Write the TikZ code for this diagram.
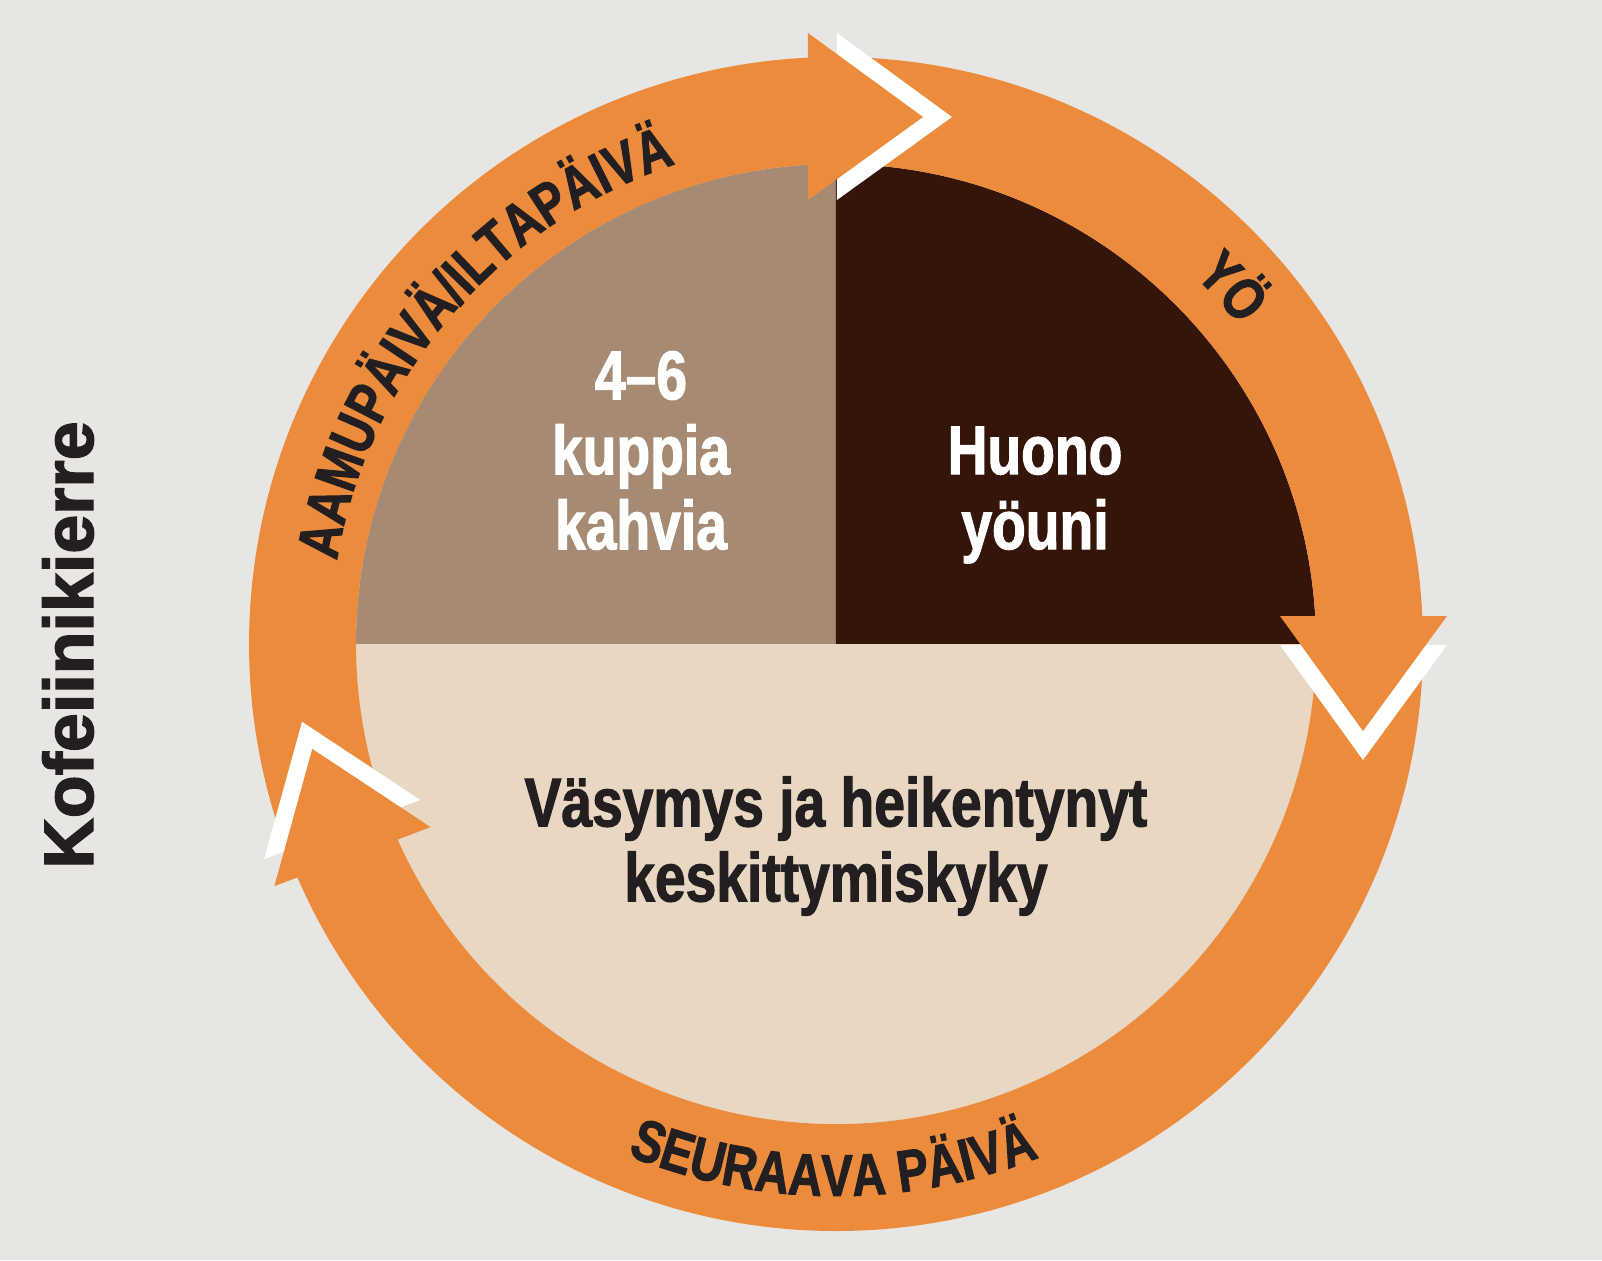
\documentclass[tikz,border=0pt]{standalone}
\usepackage{fontspec}
\usetikzlibrary{decorations.text}
\newfontfamily\condfont[FakeStretch=0.8,FakeBold=1.6]{Liberation Sans Bold}
\newfontfamily\titlefont[FakeBold=2]{Liberation Sans Bold}
\definecolor{paper}{HTML}{E8E6E2}
\definecolor{cycleorange}{HTML}{EB8B3B}
\definecolor{cups}{HTML}{A68A74}
\definecolor{night}{HTML}{35150A}
\definecolor{tired}{HTML}{E8D7C2}
\definecolor{ink}{HTML}{231F20}
\newcommand\bigtext{\condfont\fontsize{34.5}{37.5}\selectfont}
\newcommand\ringtext{\condfont\fontsize{29.5}{30}\selectfont}
\tikzset{
  ringlabel/.style={decorate,decoration={text along path,text align=center,text color=ink,text={|\ringtext|#1}}},
  pielabel/.style={align=center,inner sep=0pt}
}
\begin{document}
\begin{tikzpicture}[x=0.5pt,y=0.5pt,font=\bigtext]
	\fill[paper] (-836,-616) rectangle (766,644);
	\path[use as bounding box] (-836,-616) rectangle (766,644);

	% pie
	\fill[cups] (0,0) -- (180:480) arc[start angle=180,end angle=90,radius=480] -- cycle;
	\fill[night] (0,0) -- (90:480) arc[start angle=90,end angle=0,radius=480] -- cycle;
	\fill[tired] (0,0) -- (0:480) arc[start angle=0,end angle=-180,radius=480] -- cycle;

	% ring with three arrows
	\foreach \a/\b in {200.7/92,90/2,0/-157.3} {
		\fill[cycleorange] (\a:587) arc[start angle=\a,end angle=\b,radius=587] -- (\b:480) arc[start angle=\b,end angle=\a,radius=480] -- cycle;
	}
	\foreach \r in {0,-90,110.7} {
		\fill[white,rotate=\r] (1,611) -- (116,527) -- (1,444) -- cycle;
	}
	\foreach \r in {0,-90,110.7} {
		\fill[cycleorange,rotate=\r] (-28,611) -- (87,527) -- (-28,444) -- cycle;
	}

	\path[ringlabel={AAMUPÄIVÄ/ILTAPÄIVÄ}] (179.5:506) arc[start angle=179.5,end angle=99.5,radius=506];
	\path[ringlabel={YÖ}] (62:514) arc[start angle=62,end angle=22,radius=514];
	\path[ringlabel={SEURAAVA PÄIVÄ}] (-130.3:552) arc[start angle=-130.3,end angle=-50.3,radius=552];

	\node[pielabel,text=white] (cupsText) at (-195,193.5) {4–6\\kuppia\\kahvia};
	\node[pielabel,text=white] (sleepText) at (199,149) {Huono\\yöuni};
	\node[pielabel,text=ink] (tiredText) at (0,-202) {Väsymys ja heikentynyt\\keskittymiskyky};
	\node[inner sep=0pt,text=ink,rotate=90,font=\titlefont\fontsize{35}{38}\selectfont] (title) at (-768,-1) {Kofeiinikierre};
\end{tikzpicture}
\end{document}
